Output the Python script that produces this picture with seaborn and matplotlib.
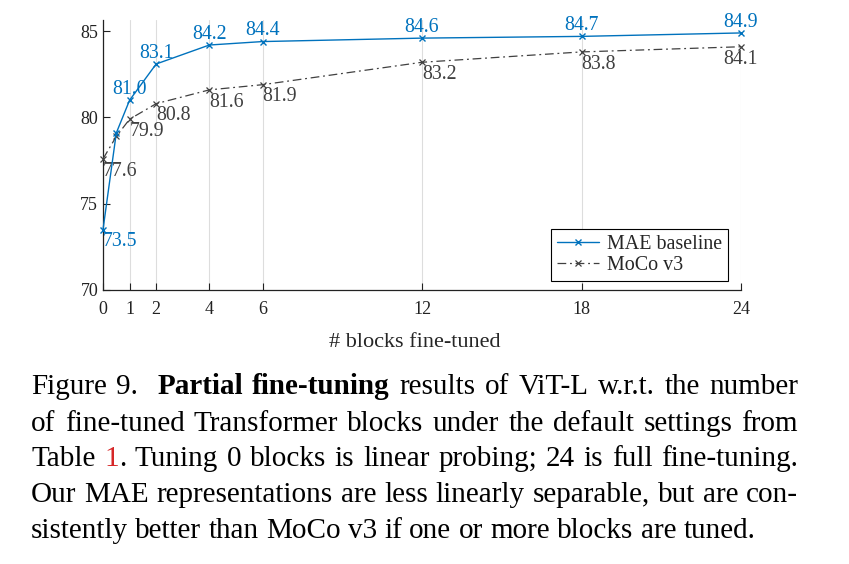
import numpy as np
import pandas as pd
import matplotlib
matplotlib.use("Agg")
import matplotlib.pyplot as plt
import seaborn as sns

# 数据
blocks = [0, 0.5, 1, 2, 4, 6, 12, 18, 24]
mae_acc = [73.5, 79.1, 81.0, 83.1, 84.2, 84.4, 84.6, 84.7, 84.9]
moco_acc = [77.6, 78.9, 79.9, 80.8, 81.6, 81.9, 83.2, 83.8, 84.1]
x_ticks = [0, 1, 2, 4, 6, 12, 18, 24]
y_ticks = [70, 75, 80, 85]
series_names = ["MAE baseline", "MoCo v3"]
x_label = "# blocks fine-tuned"

caption_lines = [
    "Figure 9.  Partial fine-tuning results of ViT-L w.r.t. the number",
    "of fine-tuned Transformer blocks under the default settings from",
    "Table 1. Tuning 0 blocks is linear probing; 24 is full fine-tuning.",
    "Our MAE representations are less linearly separable, but are con-",
    "sistently better than MoCo v3 if one or more blocks are tuned.",
]
bold_words = ["Partial", "fine-tuning"]
red_refs = ["1"]

BLUE = "#0072BD"
GRAY = "#404040"

sns.set_style("ticks")
plt.rcParams["font.family"] = ["Liberation Serif", "DejaVu Serif"]

W, H = 849, 564
fig = plt.figure(figsize=(W / 100, H / 100), dpi=100)
ax = fig.add_axes([103 / W, 1 - 290 / H, (741 - 103) / W, (290 - 20) / H])

df = pd.DataFrame({"blocks": blocks, "mae": mae_acc, "moco": moco_acc})

sns.lineplot(data=df, x="blocks", y="mae", ax=ax, color=BLUE, lw=1.0,
             marker="x", markersize=5, markeredgewidth=1.0,
             markeredgecolor=BLUE, label=series_names[0], clip_on=False, zorder=4)
sns.lineplot(data=df, x="blocks", y="moco", ax=ax, color=GRAY, lw=0.9,
             linestyle=(0, (7, 3, 1.5, 3)), marker="x", markersize=5,
             markeredgewidth=0.9, markeredgecolor=GRAY,
             label=series_names[1], clip_on=False, zorder=3)

# 数值标注
for x, y in zip(blocks, mae_acc):
    if x == 0.5:
        continue
    if x == 0:
        ax.annotate(f"{y:.1f}", (x, y), xytext=(0, -2), textcoords="offset points",
                    ha="left", va="top", color=BLUE, fontsize=14.3)
    else:
        ax.annotate(f"{y:.1f}", (x, y), xytext=(0, 1), textcoords="offset points",
                    ha="center", va="bottom", color=BLUE, fontsize=14.3)
for x, y in zip(blocks, moco_acc):
    if x == 0.5:
        continue
    ha = "center" if x == 24 else "left"
    ax.annotate(f"{y:.1f}", (x, y), xytext=(0, -2), textcoords="offset points",
                ha=ha, va="top", color=GRAY, fontsize=14.3)

ax.set_xlim(0, 24)
ax.set_ylim(70, 85.65)
ax.set_xticks(x_ticks)
ax.set_yticks(y_ticks)
ax.tick_params(direction="in", length=5, width=0.8, labelsize=13, colors="#222222")
ax.tick_params(axis="x", pad=8)
ax.set_xlabel(x_label, fontsize=16)
ax.xaxis.label.set_va("baseline")
ax.xaxis.set_label_coords((415 - 103) / 638, (290 - 347) / 270)
ax.set_ylabel("")
ax.grid(axis="x", color="#dddddd", lw=0.8)
ax.set_axisbelow(True)
sns.despine(ax=ax)
for s in ["left", "bottom"]:
    ax.spines[s].set_color("#222222")
    ax.spines[s].set_linewidth(0.9)

leg = ax.legend(loc="lower right", bbox_to_anchor=(0.98, 0.033), borderaxespad=0,
                fancybox=False, edgecolor="black", fontsize=14.4, handlelength=2.1,
                labelspacing=0.1, borderpad=0.3, handletextpad=0.4, framealpha=1)
leg.get_frame().set_linewidth(0.8)

# 图注（两端对齐）
renderer = fig.canvas.get_renderer()
left, right = 31, 798
fs = 21
baselines = [394.5, 431, 466.5, 502, 537.5]


def pieces_of(word, line_idx):
    if line_idx == 0 and word in bold_words:
        return [(word, "bold", "black")]
    if word.rstrip(".") in red_refs and word.endswith("."):
        return [(word[:-1], "normal", "#d62728"), (".", "normal", "black")]
    return [(word, "normal", "black")]


def text_width(s):
    t = fig.text(0, 0, s, fontsize=fs)
    w = t.get_window_extent(renderer).width
    t.remove()
    return w


sp = text_width("a a") - 2 * text_width("a")

for i, line in enumerate(caption_lines):
    groups, extra = [], []
    for w in line.split(" "):
        if w == "":
            extra[-1] += 1
            continue
        groups.append(w)
        extra.append(0)
    items, widths = [], []
    for w in groups:
        ts, wsum = [], 0
        for txt, weight, col in pieces_of(w, i):
            t = fig.text(0, 0, txt, fontsize=fs, fontweight=weight, color=col,
                         va="baseline", ha="left")
            bw = t.get_window_extent(renderer).width
            ts.append((t, bw))
            wsum += bw
        items.append(ts)
        widths.append(wsum)
    n_gaps = len(groups) - 1 + sum(extra[:-1])
    if i < len(caption_lines) - 1:
        gap = (right - left - sum(widths)) / n_gaps
    else:
        gap = sp
    x = left
    for k, ts in enumerate(items):
        for t, w in ts:
            t.set_position((x / W, 1 - baselines[i] / H))
            x += w
        x += gap * (1 + extra[k])

fig.savefig("out.png", dpi=100)
